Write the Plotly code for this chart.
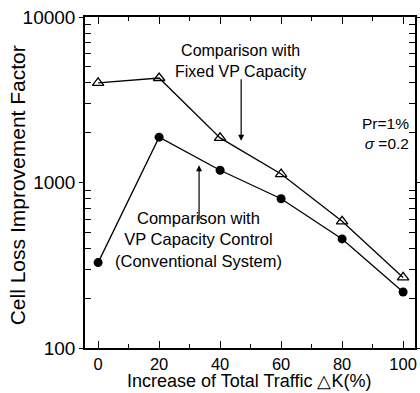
import plotly.graph_objects as go

traffic = [0, 20, 40, 60, 80, 100]
fixed_vp = [4000, 4280, 1860, 1125, 583, 267]
vp_control = [328, 1880, 1186, 798, 456, 218]

x_ticks = [0, 20, 40, 60, 80, 100]
y_ticks = [100, 1000, 10000]

FONT = "Liberation Sans, Arial, sans-serif"
B = 45
PLOT_H = 393 - 17 - B

fig = go.Figure()
fig.add_trace(go.Scatter(
    x=traffic, y=fixed_vp, mode="lines+markers",
    line=dict(color="black", width=1.3),
    marker=dict(symbol="triangle-up-open", size=10, color="black", line=dict(width=1.3)),
    showlegend=False))
fig.add_trace(go.Scatter(
    x=traffic, y=vp_control, mode="lines+markers",
    line=dict(color="black", width=1.3),
    marker=dict(symbol="circle", size=9, color="black"),
    showlegend=False))

# text annotations
fig.add_annotation(x=46.6, y=3.733, xref="x", yref="y", text="Comparison with<br>Fixed VP Capacity",
                   showarrow=False, font=dict(size=16, color="black", family=FONT), align="center")
fig.add_annotation(x=32.8, y=2.655, xref="x", yref="y",
                   text="Comparison with<br>VP Capacity Control<br>(Conventional System)",
                   showarrow=False, font=dict(size=16.5, color="black", family=FONT), align="center")
fig.add_annotation(x=102.6, y=3.294, xref="x", yref="y", text="Pr=1%<br><i>σ</i> =0.2",
                   showarrow=False, xanchor="right", font=dict(size=15.5, color="black", family=FONT),
                   align="right")
# arrows
fig.add_annotation(x=46.9, y=3.252, xref="x", yref="y", text="", showarrow=True,
                   ax=0, ay=-63, arrowhead=2, arrowsize=1, arrowwidth=1.2, arrowcolor="black")
fig.add_annotation(x=33.1, y=3.104, xref="x", yref="y", text="", showarrow=True,
                   ax=0, ay=57, arrowhead=2, arrowsize=1, arrowwidth=1.2, arrowcolor="black")

# axis titles
fig.add_annotation(x=0.497, y=-B / PLOT_H, xref="paper", yref="paper", yanchor="bottom",
                   text="Increase of Total Traffic △K(%)", showarrow=False,
                   font=dict(size=18, color="black", family=FONT))
fig.add_annotation(x=-0.2045, y=0.49, xref="paper", yref="paper", xanchor="center", yanchor="middle",
                   text="Cell Loss Improvement Factor", showarrow=False, textangle=-90,
                   font=dict(size=21, color="black", family=FONT))

fig.update_xaxes(
    range=[-4.3, 103.9], tickvals=x_ticks, ticktext=[str(v) for v in x_ticks],
    ticks="inside", ticklen=7, tickwidth=1.2, tickcolor="black",
    minor=dict(dtick=10, tick0=0, ticks="inside", ticklen=4, tickcolor="black", tickwidth=1),
    showline=True, linecolor="black", linewidth=1.5, mirror="allticks",
    showgrid=False, zeroline=False, automargin=False,
    tickfont=dict(size=16.5, color="black", family=FONT))
fig.update_yaxes(
    type="log", range=[2, 4], tickvals=y_ticks, ticktext=[str(v) for v in y_ticks],
    ticks="outside", ticklen=4, tickwidth=1.2, tickcolor="black",
    minor=dict(tickvals=[200, 300, 400, 500, 600, 700, 800, 900,
                         2000, 3000, 4000, 5000, 6000, 7000, 8000, 9000],
               ticks="inside", ticklen=6, tickcolor="black", tickwidth=1),
    showline=True, linecolor="black", linewidth=1.5, mirror="allticks",
    showgrid=False, zeroline=False, automargin=False,
    tickfont=dict(size=19, color="black", family=FONT))

fig.update_layout(
    width=420, height=393,
    margin=dict(l=85, r=5, t=17, b=B),
    paper_bgcolor="white", plot_bgcolor="white",
    font=dict(family=FONT, color="black"))

fig.write_html("out.html")
